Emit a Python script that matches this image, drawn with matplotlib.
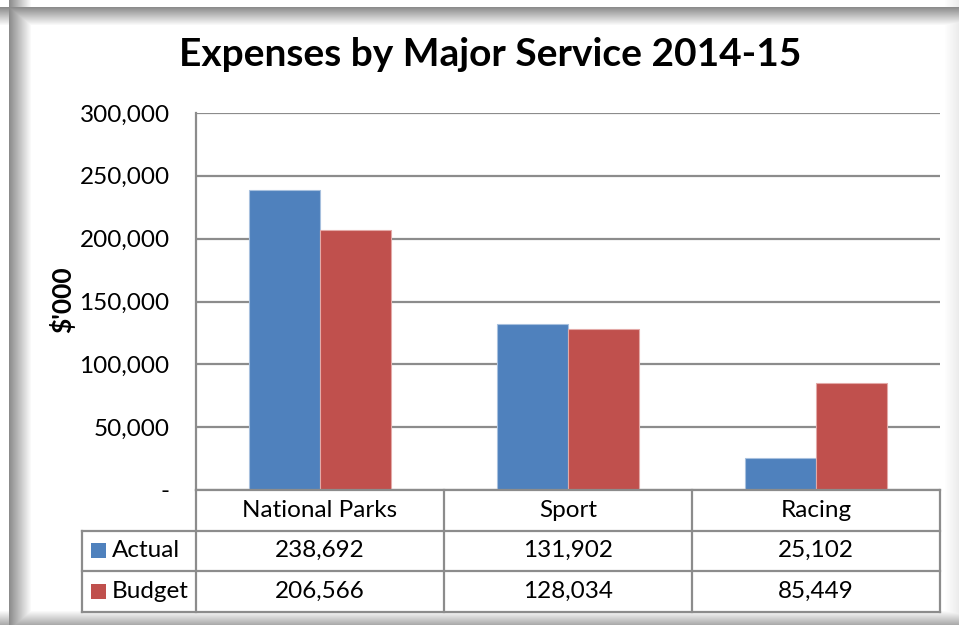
import numpy as np
import matplotlib
matplotlib.use("Agg")
import matplotlib.pyplot as plt
from matplotlib.patches import Rectangle
from matplotlib.lines import Line2D

# ---- data ----
categories = ["National Parks", "Sport", "Racing"]
actual = [238692, 131902, 25102]
budget = [206566, 128034, 85449]
series_names = ["Actual", "Budget"]
yticks = [0, 50000, 100000, 150000, 200000, 250000, 300000]
title = "Expenses by Major Service 2014-15"
ylabel = "$'000"

BLUE = "#4F81BD"
RED = "#C0504D"
BLUE_EDGE = "#A7C0DE"
RED_EDGE = "#E3A9A7"
GRID = "#8C8C8C"
FONT = "Lato"
FS = 17.5

W, H = 959, 625
fig = plt.figure(figsize=(W / 100, H / 100), dpi=100)

# ---- frame with soft inner shadow ----
bg = fig.add_axes([0, 0, 1, 1], zorder=-10)
xx = np.arange(W)[None, :].astype(float)
yy = np.arange(H)[:, None].astype(float)
left = np.where(xx < 9, 1.0, np.clip(0.55 + (xx - 9) / 22 * 0.45, 0.55, 1.0))
top = np.where(yy < 7, 1.0, np.clip(0.55 + (yy - 7) / 18 * 0.45, 0.55, 1.0))
right = np.clip(1.0 - np.clip((xx - 944) / 15, 0, 1) * 0.08, 0, 1)
bottom = np.clip(1.0 - np.clip((yy - 610) / 15, 0, 1) * 0.35, 0, 1)
shade = np.minimum(np.minimum(left, top) * np.ones((H, W)), np.minimum(right, bottom))
bg.imshow(np.dstack([shade] * 3), extent=(0, W, H, 0), aspect="auto",
          interpolation="bilinear")
bg.set_xlim(0, W)
bg.set_ylim(H, 0)
bg.axis("off")

# ---- plot area ----
px_l, px_r, px_t, px_b = 196, 940, 113, 490
ax = fig.add_axes([px_l / W, 1 - px_b / H, (px_r - px_l) / W, (px_b - px_t) / H])
ax.set_facecolor("none")

x = np.arange(len(categories))
bw = 1 / 3.5
ax.bar(x - bw / 2, actual, bw, color=BLUE, edgecolor=BLUE_EDGE, linewidth=0.8, zorder=3)
ax.bar(x + bw / 2, budget, bw, color=RED, edgecolor=RED_EDGE, linewidth=0.8, zorder=3)

ax.set_xlim(-0.5, len(categories) - 0.5)
ax.set_ylim(0, 300000)
ax.set_yticks(yticks)
ax.set_yticklabels(["-" if v == 0 else f"{v:,}" for v in yticks],
                   fontsize=FS, family=FONT)
ax.tick_params(axis="y", length=0, pad=19)
ax.set_xticks([])
ax.yaxis.grid(True, color=GRID, linewidth=1.6, zorder=0)
for s in ["top", "right", "bottom"]:
    ax.spines[s].set_visible(False)
ax.spines["left"].set_color(GRID)
ax.spines["left"].set_linewidth(1.6)

fig.text(490 / W, 1 - 55 / H, title, ha="center", va="center", fontsize=28,
         fontweight="bold", family=FONT)
fig.text(62 / W, 1 - 300 / H, ylabel, ha="center", va="center", rotation=90,
         fontsize=19, fontweight="bold", family=FONT)

# ---- data table below the plot ----
row_h = 40.5
table_top = px_b
n_rows = 3
label_left = 82
lw = 1.6


def fx(px):
    return px / W


def fy(py):
    return 1 - py / H


col_edges = [px_l + i * (px_r - px_l) / len(categories) for i in range(len(categories) + 1)]
row_edges = [table_top + i * row_h for i in range(n_rows + 1)]

# horizontal lines
fig.add_artist(Line2D([fx(px_l), fx(px_r)], [fy(row_edges[0])] * 2, color=GRID, lw=lw))
for r in row_edges[1:]:
    fig.add_artist(Line2D([fx(label_left), fx(px_r)], [fy(r)] * 2, color=GRID, lw=lw))
# vertical lines
for c in col_edges:
    fig.add_artist(Line2D([fx(c)] * 2, [fy(row_edges[0]), fy(row_edges[-1])], color=GRID, lw=lw))
fig.add_artist(Line2D([fx(label_left)] * 2, [fy(row_edges[1]), fy(row_edges[-1])], color=GRID, lw=lw))

# category header
for i, cat in enumerate(categories):
    cx = (col_edges[i] + col_edges[i + 1]) / 2
    fig.text(fx(cx), fy((row_edges[0] + row_edges[1]) / 2), cat, ha="center",
             va="center", fontsize=FS, family=FONT)

# series rows
for j, (name, vals, col) in enumerate(zip(series_names, [actual, budget], [BLUE, RED])):
    cy = (row_edges[j + 1] + row_edges[j + 2]) / 2
    sq = 15
    fig.add_artist(Rectangle((fx(label_left + 9), fy(cy + sq / 2)), sq / W, sq / H,
                             facecolor=col, edgecolor="none"))
    fig.text(fx(label_left + 30), fy(cy), name, ha="left", va="center",
             fontsize=FS, family=FONT)
    for i, v in enumerate(vals):
        cx = (col_edges[i] + col_edges[i + 1]) / 2
        fig.text(fx(cx), fy(cy), f"{v:,}", ha="center", va="center",
                 fontsize=FS, family=FONT)

fig.savefig("out.png", dpi=100)
